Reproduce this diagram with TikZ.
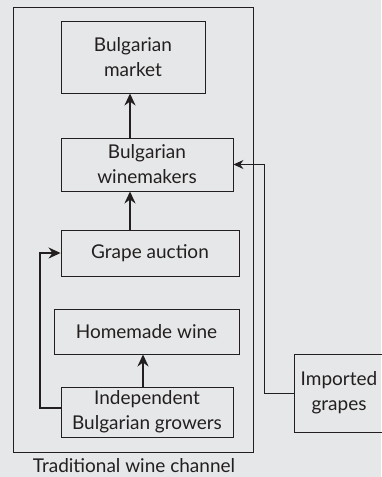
\documentclass[tikz,border=0pt]{standalone}
\usepackage{fontspec}
\setmainfont{Lato}
\usetikzlibrary{arrows.meta}
\definecolor{bg}{HTML}{E6E7E8}
\definecolor{ink}{HTML}{231F20}
\begin{document}
\begin{tikzpicture}[x=1pt,y=-1pt,
  lab/.style={text=ink,font=\fontsize{19}{25}\selectfont},
  box/.style={draw=ink,line width=0.9pt,align=center,inner sep=0pt,lab},
  flow/.style={draw=ink,line width=2pt,-{Stealth[length=12pt,width=11pt]}},
  feed/.style={draw=ink,line width=1.5pt,-{Stealth[length=12pt,width=11pt]}},
  inlet/.style={draw=ink,line width=1pt,-{Stealth[length=10pt,width=9pt]}}]
  \useasboundingbox[fill=bg] (0,0) rectangle (381,477);
  % channel frame
  \draw[ink,line width=0.9pt] (13,7) rectangle (253,452);
  \node[lab] (lbl) at (134,466) {Traditional wine channel};
  % stages
  \node[box,minimum width=144pt,minimum height=72pt] (market) at (133,57) {Bulgarian\\market};
  \node[box,minimum width=172pt,minimum height=53pt] (wm) at (147,164.5) {Bulgarian\\winemakers};
  \node[box,minimum width=178pt,minimum height=46pt] (auction) at (150,253) {Grape auction};
  \node[box,minimum width=185pt,minimum height=45pt] (home) at (146.5,331.5) {Homemade wine};
  \node[box,minimum width=172pt,minimum height=50pt] (grow) at (147,412) {Independent\\Bulgarian growers};
  \node[box,minimum width=90pt,minimum height=78pt] (imp) at (339,393) {Imported\\grapes};
  % flows
  \draw[flow] ([xshift=-17pt]wm.north) -- ([xshift=-3pt]market.south);
  \draw[flow] ([xshift=-20pt]auction.north) -- ([xshift=-17pt]wm.south);
  \draw[flow] ([xshift=-4pt]grow.north) -- ([xshift=-3.5pt]home.south);
  \coordinate (gs) at ([yshift=4pt]grow.west);
  \coordinate (gl) at (40,416);
  \draw[feed] (gs) -- (gs -| gl) |- (auction.west);
  \coordinate (ir) at (264,164.5);
  \draw[inlet] (imp.west) -- (imp.west -| ir) |- (wm.east);
\end{tikzpicture}
\end{document}
